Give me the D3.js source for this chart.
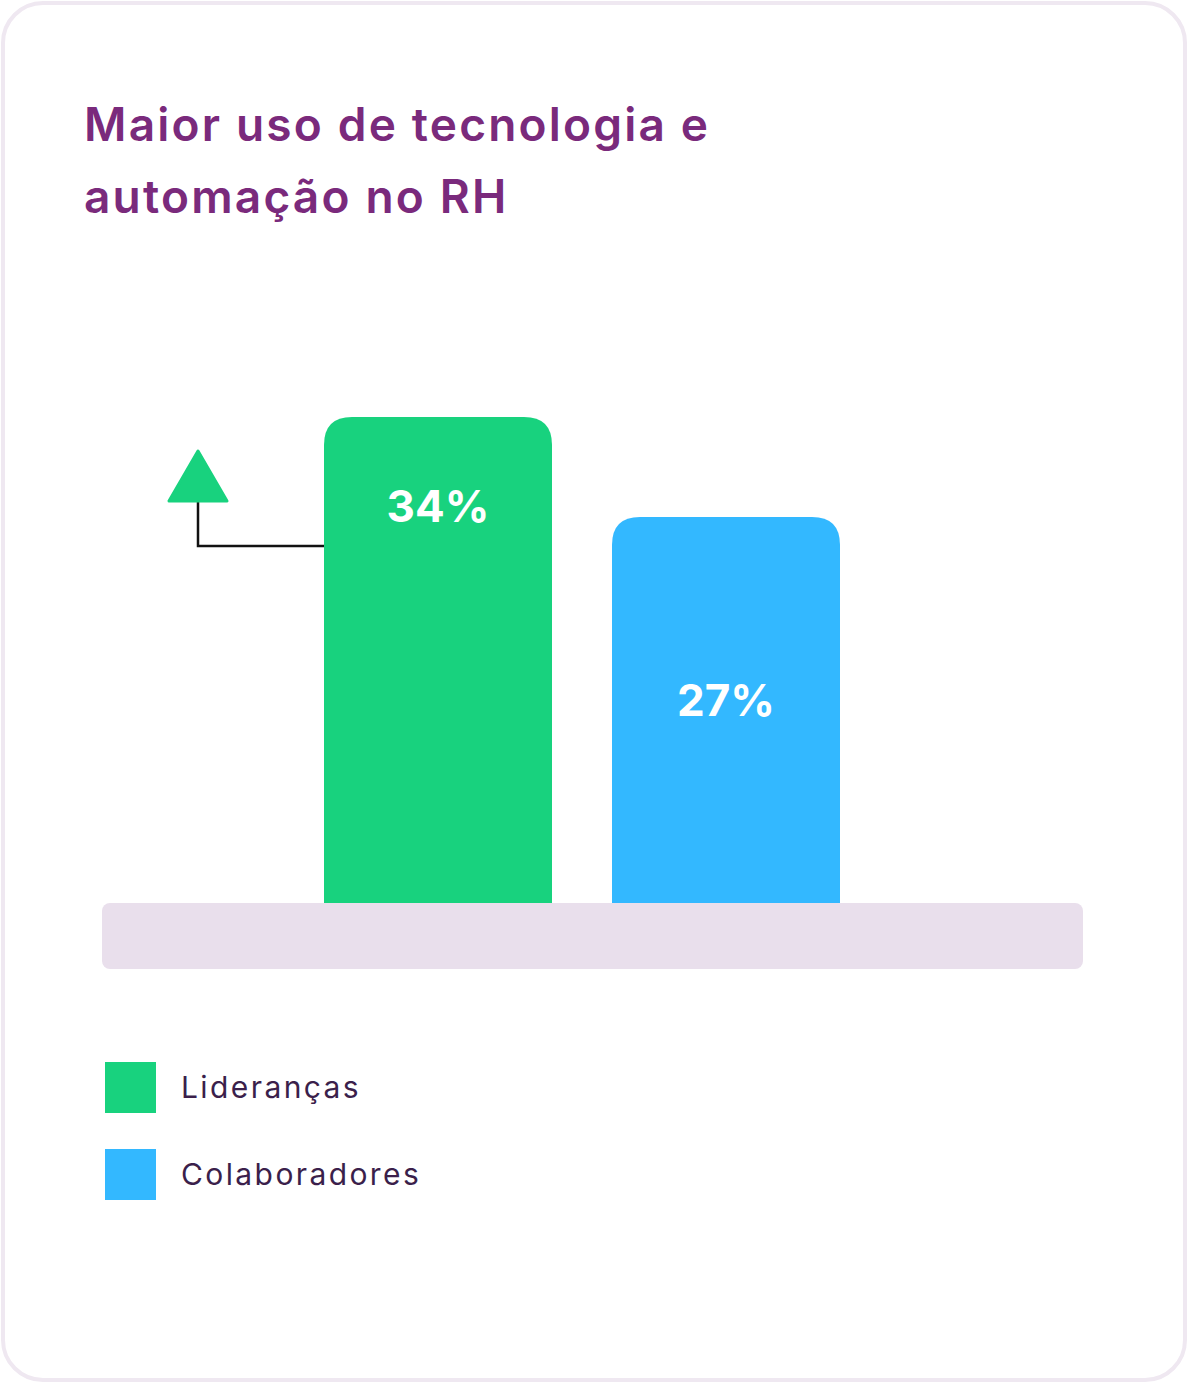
<!DOCTYPE html>
<html>
<head>
<meta charset="utf-8">
<script src="https://cdn.jsdelivr.net/npm/d3@7"></script>
<style>
  body { margin: 0; background: #fff; }
  text { font-family: Inter, "Open Sans", sans-serif; }
</style>
</head>
<body>
<div id="chart"></div>
<script>
const titleLines = ["Maior uso de tecnologia e", "automação no RH"];
const groups = ["Lideranças", "Colaboradores"];
const values = [34, 27];
const colors = ["#18d27e", "#33b8ff"];

const w = 1188;
const h = 1383;
const baseY = 903;
const topY = 417;

const svg = d3
  .select("#chart")
  .append("svg")
  .attr("width", w)
  .attr("height", h);

// card
svg
  .append("rect")
  .attr("x", 3)
  .attr("y", 3)
  .attr("width", w - 6)
  .attr("height", h - 6)
  .attr("rx", 40)
  .attr("fill", "#fff")
  .attr("stroke", "#efe8f1")
  .attr("stroke-width", 4);

svg
  .append("g")
  .selectAll("text")
  .data(titleLines)
  .enter()
  .append("text")
  .attr("x", 84)
  .attr("y", (d, i) => 141 + i * 72)
  .attr("fill", "#7a2a7c")
  .attr("font-size", 46)
  .attr("font-weight", 600)
  .attr("letter-spacing", 2.2)
  .text((d) => d);

let x = d3
  .scaleBand()
  .domain(groups)
  .range([324, 840])
  .paddingInner(60 / 288);

let y = d3
  .scaleLinear()
  .domain([0, d3.max(values)])
  .range([baseY, topY]);

// floor
svg
  .append("rect")
  .attr("x", 102)
  .attr("y", baseY)
  .attr("width", 981)
  .attr("height", 66)
  .attr("rx", 8)
  .attr("fill", "#e9dfec");

// bars with rounded tops only
function barPath(x0, y0, bw, y1, r) {
  return `M${x0},${y1}V${y0 + r}Q${x0},${y0} ${x0 + r},${y0}H${x0 + bw - r}Q${x0 + bw},${y0} ${x0 + bw},${y0 + r}V${y1}Z`;
}

svg
  .append("g")
  .selectAll("path")
  .data(values)
  .enter()
  .append("path")
  .attr("d", (d, i) => barPath(x(groups[i]), y(d), x.bandwidth(), baseY, 28))
  .attr("fill", (d, i) => colors[i]);

const labelOffset = [105, 199];
svg
  .append("g")
  .selectAll("text")
  .data(values)
  .enter()
  .append("text")
  .attr("x", (d, i) => x(groups[i]) + x.bandwidth() / 2)
  .attr("y", (d, i) => y(d) + labelOffset[i])
  .attr("text-anchor", "middle")
  .attr("fill", "#fff")
  .attr("font-size", 44)
  .attr("font-weight", 700)
  .text((d) => d + "%");

// increase marker
const gx = x(groups[0]);
svg
  .append("path")
  .attr("d", `M${gx},546H198V500`)
  .attr("fill", "none")
  .attr("stroke", "#111")
  .attr("stroke-width", 2.5);

svg
  .append("path")
  .attr("d", "M198,451L227,501L169,501Z")
  .attr("fill", colors[0])
  .attr("stroke", colors[0])
  .attr("stroke-width", 3)
  .attr("stroke-linejoin", "round");

// legend
let legend = svg
  .append("g")
  .selectAll("g")
  .data(groups)
  .enter()
  .append("g")
  .attr("transform", (d, i) => `translate(105,${1062 + i * 87})`);

legend
  .append("rect")
  .attr("width", 51)
  .attr("height", 51)
  .attr("fill", (d, i) => colors[i]);

legend
  .append("text")
  .attr("x", 76)
  .attr("y", 36)
  .attr("fill", "#3b1f4b")
  .attr("font-size", 30)
  .attr("letter-spacing", 2.4)
  .text((d) => d);
</script>
</body>
</html>
